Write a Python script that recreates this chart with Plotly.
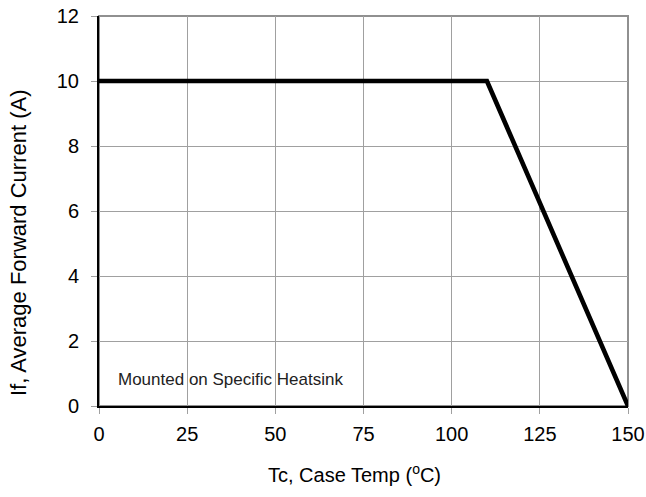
import plotly.graph_objects as go

temp_c = [0, 110, 150]
current_a = [10, 10, 0]
x_ticks = [0, 25, 50, 75, 100, 125, 150]
y_ticks = [0, 2, 4, 6, 8, 10, 12]

FONT = "Liberation Sans, Arial"
W, H = 646, 497
L, R, T, B = 99, 18, 16, 91
pw, ph = W - L - R, H - T - B

fig = go.Figure()
fig.add_trace(go.Scatter(x=temp_c, y=current_a, mode="lines",
                         line=dict(color="black", width=4.6), showlegend=False))

fig.add_annotation(x=4.8, y=0.83, xref="x", yref="y", text="Mounted on Specific Heatsink",
                   showarrow=False, xanchor="left", yanchor="middle",
                   font=dict(family=FONT, size=17, color="#222"))

# axis titles as paper-positioned annotations (pixel coords)
fig.add_annotation(x=(354 - L) / pw, y=(H - B - 473) / ph, xref="paper", yref="paper",
                   text="Tc, Case Temp (<sup>o</sup>C)", showarrow=False,
                   xanchor="center", yanchor="middle", font=dict(family=FONT, size=20, color="black"))
fig.add_annotation(x=(19 - L) / pw, y=(H - B - 243) / ph, xref="paper", yref="paper",
                   text="If, Average Forward Current (A)", showarrow=False, textangle=-90,
                   xanchor="center", yanchor="middle", font=dict(family=FONT, size=22, color="black"))

fig.update_layout(
    width=W, height=H,
    margin=dict(l=L, r=R, t=T, b=B, autoexpand=False),
    paper_bgcolor="white", plot_bgcolor="white",
    font=dict(family=FONT, size=20, color="black"),
    xaxis=dict(range=[0, 150], tickvals=x_ticks, showgrid=True, gridcolor="#a0a0a0", gridwidth=1,
               ticks="outside", ticklen=6, tickcolor="#a0a0a0", ticklabelstandoff=3,
               ticklabeloverflow="allow",
               tickfont=dict(family=FONT, size=20, color="black"),
               showline=True, linecolor="black", linewidth=2, zeroline=False, automargin=False),
    yaxis=dict(range=[0, 12], tickvals=y_ticks, showgrid=True, gridcolor="#a0a0a0", gridwidth=1,
               ticks="outside", ticklen=6, tickcolor="#a0a0a0", ticklabelstandoff=8,
               ticklabeloverflow="allow",
               tickfont=dict(family=FONT, size=20, color="black"),
               showline=True, linecolor="black", linewidth=2, zeroline=False, automargin=False),
    shapes=[dict(type="rect", xref="paper", yref="paper", x0=0, y0=0, x1=1, y1=1,
                 line=dict(color="#909090", width=2), layer="below")],
)

fig.write_html("out.html", config={"displayModeBar": False},
               post_script="document.body.style.margin='0';document.body.style.overflow='hidden';")
